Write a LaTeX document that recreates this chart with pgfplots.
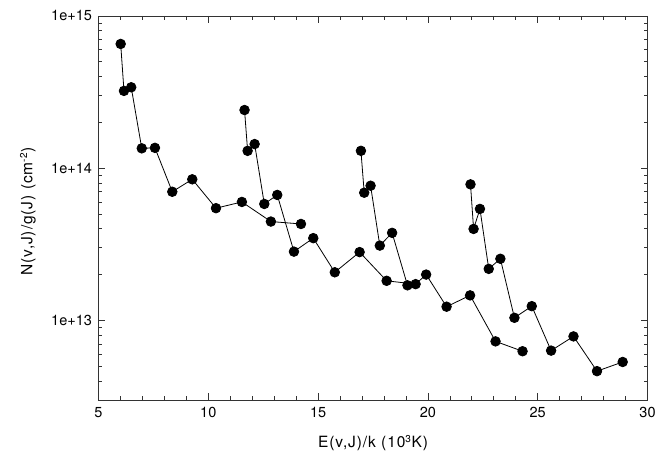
\documentclass[border=0pt]{standalone}
\usepackage{pgfplots}
\pgfplotsset{compat=1.18}
\usepackage{fontspec}
\setmainfont{TeX Gyre Heros}
\begin{document}
\begin{tikzpicture}
\useasboundingbox (-98.5pt,-70pt) rectangle (572.5pt,400pt);
\begin{axis}[
  at={(0pt,0pt)}, anchor=south west,
  scale only axis, width=549pt, height=384pt,
  xmin=5, xmax=30, ymin=3e12, ymax=1e15,
  ymode=log,
  tick label style={font=\fontsize{14.5}{16}\selectfont},
  label style={font=\fontsize{15.5}{17}\selectfont\addfontfeature{LetterSpace=6}},
  axis line style={line width=0.8pt, black!80},
  tick style={line width=0.7pt, black!80},
  tick align=inside,
  major tick length=7pt, minor tick length=4pt,
  xtick={5,10,15,20,25,30},
  xticklabels={5,10,15,20,25,30},
  minor xtick={6,7,8,9,11,12,13,14,16,17,18,19,21,22,23,24,26,27,28,29},
  ytick={1e13,1e14,1e15},
  yticklabels={1e+13,1e+14,1e+15},
  minor ytick={4e12,5e12,6e12,7e12,8e12,9e12,2e13,3e13,4e13,5e13,6e13,7e13,8e13,9e13,2e14,3e14,4e14,5e14,6e14,7e14,8e14,9e14},
  xticklabel style={yshift=-4pt},
  yticklabel style={xshift=-3pt},
  xlabel={E(v,J)/k (10$^{\mbox{\fontsize{10}{10}\selectfont 3}}$K)},
  ylabel={N(v,J)/g(J) (cm$^{\mbox{\fontsize{10}{10}\selectfont -2}}$)},
  xlabel style={at={(axis description cs:0.5,-0.112)}, anchor=center},
  ylabel style={at={(axis description cs:-0.1284,0.491)}, anchor=center, rotate=0},
]
\pgfplotsset{mystyle/.style={black, line width=0.8pt, mark=*, mark size=4.8pt, mark options={solid, fill=black}}}
\addplot[mystyle] coordinates {
(6.01,6.55e14) (6.16,3.22e14) (6.49,3.40e14) (6.97,1.35e14) (7.57,1.36e14)
(8.36,7.0e13) (9.27,8.45e13) (10.35,5.46e13) (11.53,6.0e13) (12.85,4.46e13) (14.22,4.3e13)};
\addplot[mystyle] coordinates {
(11.65,2.41e14) (11.79,1.30e14) (12.11,1.44e14) (12.55,5.82e13) (13.14,6.67e13)
(13.90,2.83e13) (14.78,3.47e13) (15.76,2.07e13) (16.89,2.81e13) (18.12,1.82e13)
(19.44,1.73e13) (19.92,2.0e13) (20.85,1.23e13) (21.92,1.46e13) (23.08,7.28e12) (24.31,6.27e12)};
\addplot[mystyle] coordinates {
(16.95,1.30e14) (17.10,6.9e13) (17.39,7.67e13) (17.81,3.1e13) (18.37,3.76e13) (19.07,1.70e13)};
\addplot[mystyle] coordinates {
(21.94,7.83e13) (22.08,3.99e13) (22.37,5.40e13) (22.77,2.18e13) (23.30,2.54e13)
(23.94,1.04e13) (24.73,1.24e13) (25.61,6.33e12) (26.63,7.85e12) (27.70,4.64e12) (28.87,5.33e12)};
\end{axis}
\end{tikzpicture}
\end{document}
